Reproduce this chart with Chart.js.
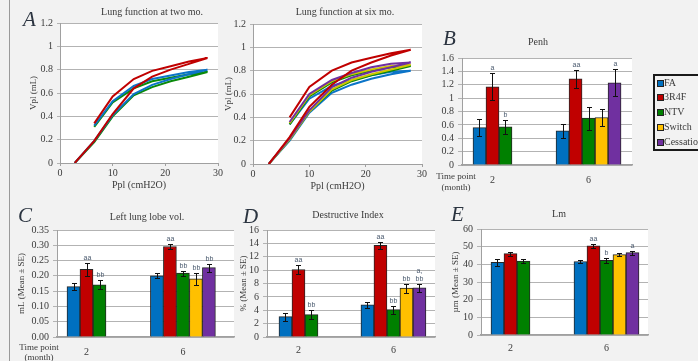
<!DOCTYPE html>
<html><head><meta charset="utf-8">
<script src="https://cdn.jsdelivr.net/npm/chart.js@4.4.1/dist/chart.umd.min.js"></script>
<style>
html,body{margin:0;padding:0;width:698px;height:361px;overflow:hidden;background:#f2f2f2;}
#wrap{position:relative;width:698px;height:361px;font-family:"Liberation Serif",serif;color:#3a3a3a;overflow:hidden;}
canvas{position:absolute;}
.t{position:absolute;transform:translate(-50%,-50%);white-space:nowrap;font-size:10px;line-height:12px;}
.s{position:absolute;transform:translate(-50%,-50%);white-space:nowrap;font-size:9px;line-height:10px;text-align:center;}
.L{position:absolute;font-style:italic;font-size:21px;line-height:21px;color:#2b3440;}
#vline{position:absolute;left:9px;top:0;width:1px;height:361px;background:#9a9a9a;}
#legend{position:absolute;left:653px;top:74px;width:70px;height:77px;border:2px solid #1a1a1a;box-sizing:border-box;}
.lsq{position:absolute;width:5px;height:5px;border:1px solid #222;}
.ltx{position:absolute;font-size:10px;line-height:12px;white-space:nowrap;transform:translateY(-50%);}
</style></head>
<body><div id="wrap">
<div id="vline"></div>
<canvas id="cA"></canvas><canvas id="cA2"></canvas><canvas id="cB"></canvas>
<canvas id="cC"></canvas><canvas id="cD"></canvas><canvas id="cE"></canvas>
<div id="legend"></div>
<div class="L" style="left:23px;top:9px">A</div>
<div class="L" style="left:443px;top:28px">B</div>
<div class="L" style="left:18px;top:205px">C</div>
<div class="L" style="left:243px;top:206px">D</div>
<div class="L" style="left:451px;top:204px">E</div>
<div class="t" style="left:152px;top:12px">Lung function at two mo.</div>
<div class="t" style="left:345px;top:12px">Lung function at six mo.</div>
<div class="t" style="left:538px;top:42px">Penh</div>
<div class="t" style="left:147px;top:217px">Left lung lobe vol.</div>
<div class="t" style="left:348px;top:215px">Destructive Index</div>
<div class="t" style="left:559px;top:214px">Lm</div>
<div class="s" style="left:456px;top:176px">Time point</div>
<div class="s" style="left:456px;top:187px">(month)</div>
<div class="s" style="left:39px;top:347px">Time point</div>
<div class="s" style="left:39px;top:357px">(month)</div>
</div>
<script>
// ---- data ----
const series = ['FA', '3R4F', 'NTV', 'Switch', 'Cessation'];
const barColors = ['#0070C0', '#C00000', '#008000', '#FFC000', '#7030A0'];
const lineColors = ['#0B74C8', '#C00000', '#0A8A0A', '#CFC600', '#7030A0'];
const months = [2, 6];

// pressure points along the inflation/deflation loop (cmH2O)
const pplLoop = [2.8, 6.5, 10, 14, 17.5, 21, 24.5, 28, 24.5, 21, 17.5, 14, 10, 6.5];
const vpl2mo_FA   = [0, 0.19, 0.41, 0.59, 0.67, 0.72, 0.76, 0.80, 0.78, 0.75, 0.72, 0.66, 0.53, 0.32];
const vpl2mo_3R4F = [0, 0.19, 0.42, 0.64, 0.74, 0.80, 0.85, 0.90, 0.87, 0.83, 0.79, 0.72, 0.57, 0.34];
const vpl2mo_NTV  = [0, 0.18, 0.40, 0.58, 0.65, 0.70, 0.74, 0.78, 0.76, 0.73, 0.70, 0.64, 0.52, 0.31];
const vpl6mo_FA        = [0, 0.20, 0.44, 0.61, 0.68, 0.73, 0.77, 0.80, 0.79, 0.76, 0.72, 0.67, 0.56, 0.34];
const vpl6mo_3R4F      = [0, 0.23, 0.49, 0.68, 0.80, 0.87, 0.93, 0.98, 0.95, 0.91, 0.87, 0.80, 0.66, 0.40];
const vpl6mo_NTV       = [0, 0.21, 0.45, 0.63, 0.71, 0.76, 0.80, 0.84, 0.83, 0.80, 0.76, 0.70, 0.58, 0.34];
const vpl6mo_Switch    = [0, 0.21, 0.45, 0.64, 0.72, 0.77, 0.81, 0.85, 0.84, 0.81, 0.77, 0.71, 0.59, 0.35];
const vpl6mo_Cessation = [0, 0.22, 0.46, 0.66, 0.74, 0.79, 0.83, 0.87, 0.86, 0.83, 0.78, 0.72, 0.60, 0.36];

// bar panels: rows = series, columns = months
const penhMean = [[0.56, 0.51], [1.17, 1.29], [0.57, 0.70], [null, 0.71], [null, 1.23]];
const penhErr  = [[0.13, 0.10], [0.20, 0.135], [0.11, 0.17], [null, 0.13], [null, 0.20]];
const penhSig  = [['', ''], ['a', 'aa'], ['b', ''], ['', ''], ['', 'a']];

const lobeMean = [[0.165, 0.200], [0.221, 0.296], [0.171, 0.209], [null, 0.190], [null, 0.227]];
const lobeErr  = [[0.010, 0.008], [0.021, 0.008], [0.015, 0.008], [null, 0.019], [null, 0.013]];
const lobeSig  = [['', ''], ['aa', 'aa'], ['bb', 'bb'], ['', 'bb'], ['', 'bb']];

const diMean = [[3.05, 4.8], [10.1, 13.7], [3.35, 4.1], [null, 7.3], [null, 7.35]];
const diErr  = [[0.6, 0.45], [0.65, 0.55], [0.7, 0.6], [null, 0.7], [null, 0.65]];
const diSig  = [['', ''], ['aa', 'aa'], ['bb', 'bb'], ['', 'bb'], ['', 'a,\nbb']];

const lmMean = [[41.2, 41.6], [46.1, 50.5], [41.8, 42.2], [null, 45.5], [null, 46.6]];
const lmErr  = [[2.1, 1.1], [1.1, 1.0], [1.3, 1.2], [null, 1.0], [null, 1.2]];
const lmSig  = [['', ''], ['', 'aa'], ['', 'b'], ['', ''], ['', 'a']];

// ---- helpers ----
const FAM = '"Liberation Serif", serif';
const TXT = '#3a3a3a';
const GRID = '#b3b3b3';
const AXIS = '#a0a0a0';

const whiteArea = {
  id: 'whiteArea',
  beforeDraw(chart) {
    const a = chart.chartArea, c = chart.ctx;
    c.save(); c.fillStyle = '#ffffff';
    c.fillRect(a.left, a.top, a.right - a.left, a.bottom - a.top);
    c.restore();
  }
};

const errBars = {
  id: 'errBars',
  afterDatasetsDraw(chart) {
    const c = chart.ctx, ys = chart.scales.y;
    chart.data.datasets.forEach((ds, di) => {
      if (!ds.err) return;
      const meta = chart.getDatasetMeta(di);
      meta.data.forEach((bar, i) => {
        const v = ds.data[i].y, e = ds.err[i];
        if (v == null || e == null) return;
        const x = Math.round(bar.x) + 0.5;
        const top = Math.round(ys.getPixelForValue(v + e)) + 0.5;
        const bot = Math.round(ys.getPixelForValue(v - e)) + 0.5;
        c.save();
        c.strokeStyle = '#111'; c.lineWidth = 1;
        c.beginPath();
        c.moveTo(x, top); c.lineTo(x, bot);
        c.moveTo(x - 2.5, top); c.lineTo(x + 2.5, top);
        c.moveTo(x - 2.5, bot); c.lineTo(x + 2.5, bot);
        c.stroke();
        const s = ds.sig && ds.sig[i];
        if (s) {
          c.fillStyle = '#4a5a6e';
          c.font = '7px "Liberation Sans", sans-serif';
          c.textAlign = 'center'; c.textBaseline = 'bottom';
          const lines = s.split('\n');
          for (let k = 0; k < lines.length; k++) {
            c.fillText(lines[lines.length - 1 - k], x, top - 2 - k * 8);
          }
        }
        c.restore();
      });
    });
  }
};

function mk(id, plot, yw, xh, padR, config) {
  const cv = document.getElementById(id);
  const left = plot.l - yw, top = plot.t - 8;
  const w = plot.r + padR - left, h = plot.b + xh - top;
  cv.width = w; cv.height = h;
  cv.style.left = left + 'px'; cv.style.top = top + 'px';
  cv.style.width = w + 'px'; cv.style.height = h + 'px';
  config.options.layout = { padding: { left: 0, top: 8, right: padR, bottom: 0 } };
  config.options.scales.y.afterFit = s => { s.width = yw; };
  config.options.scales.x.afterFit = s => { s.height = xh; };
  config.options.responsive = false;
  config.options.animation = false;
  config.options.devicePixelRatio = 1;
  config.options.events = [];
  config.options.plugins = { legend: { display: false }, tooltip: { enabled: false }, title: { display: false } };
  config.plugins = [whiteArea, errBars];
  return new Chart(cv, config);
}

const fmt = v => String(+Number(v).toFixed(2));

function lineChart(id, plot, yw, yTitlePad, sets) {
  return mk(id, plot, yw, 28, 6, {
    type: 'line',
    data: {
      datasets: sets.map(([si, vals, ord]) => ({
        label: series[si],
        data: pplLoop.map((p, k) => ({ x: p, y: vals[k] })),
        borderColor: lineColors[si], backgroundColor: lineColors[si],
        borderWidth: 2, pointRadius: 0, tension: 0, fill: false, order: ord
      }))
    },
    options: {
      scales: {
        x: {
          type: 'linear', min: 0, max: 30,
          ticks: { stepSize: 10, padding: 1, color: TXT, font: { family: FAM, size: 10 } },
          grid: { drawOnChartArea: false, drawTicks: true, tickLength: 3, color: AXIS },
          border: { color: AXIS, width: 1 },
          title: { display: true, text: 'Ppl (cmH2O)', color: TXT, font: { family: FAM, size: 10 }, padding: 0 }
        },
        y: {
          min: 0, max: 1.2,
          ticks: { stepSize: 0.2, autoSkip: false, padding: 4, color: TXT, font: { family: FAM, size: 10 }, callback: fmt },
          grid: { color: GRID, tickLength: 3 },
          border: { color: AXIS, width: 1 },
          title: { display: true, text: 'Vpl (mL)', color: TXT, font: { family: FAM, size: 9 }, padding: { top: yTitlePad, bottom: 0 } }
        }
      }
    }
  });
}

function barChart(id, plot, yw, xh, xpad, xmin, xmax, ymax, ystep, yfmt, ytitle, yTitlePad, mean, err, sig) {
  const datasets = series.map((name, s) => ({
    label: name,
    data: months.map((m, i) => ({ x: m, y: mean[s][i] })),
    backgroundColor: barColors[s], borderColor: '#262626', borderWidth: 1,
    barThickness: 13, skipNull: true, grouped: true,
    err: err[s], sig: sig[s]
  }));
  return mk(id, plot, yw, xh, 6, {
    type: 'bar',
    data: { datasets },
    options: {
      skipNull: true,
      scales: {
        x: {
          type: 'linear', min: xmin, max: xmax, offset: false,
          afterBuildTicks: s => { s.ticks = months.map(v => ({ value: v })); },
          ticks: { padding: xpad, color: TXT, font: { family: FAM, size: 10 }, callback: v => String(v) },
          grid: { display: false, drawTicks: false, offset: false },
          border: { display: true, color: AXIS, width: 1.5 }
        },
        y: {
          min: 0, max: ymax,
          ticks: { stepSize: ystep, autoSkip: false, padding: 4, color: TXT, font: { family: FAM, size: 10 }, callback: yfmt },
          grid: { color: GRID, tickLength: 4 },
          border: { color: AXIS, width: 1 },
          title: { display: !!ytitle, text: ytitle, color: TXT, font: { family: FAM, size: 9 }, padding: { top: yTitlePad, bottom: 0 } }
        }
      }
    }
  });
}

// ---- panels ----
lineChart('cA', { l: 60, t: 21, r: 218, b: 163 }, 40, 8, [
  [1, vpl2mo_3R4F, 0], [0, vpl2mo_FA, 1], [2, vpl2mo_NTV, 2]
]);
lineChart('cA2', { l: 253, t: 22, r: 422, b: 164 }, 33, 3, [
  [1, vpl6mo_3R4F, 0], [4, vpl6mo_Cessation, 1], [3, vpl6mo_Switch, 2], [2, vpl6mo_NTV, 3], [0, vpl6mo_FA, 4]
]);
barChart('cB', { l: 462, t: 56, r: 632, b: 165 }, 30, 23, 9, 0.73, 7.81, 1.6, 0.2, fmt, '', 0, penhMean, penhErr, penhSig);
barChart('cC', { l: 57, t: 228, r: 234, b: 337 }, 45, 23, 9, 0.776, 8.12, 0.35, 0.05, v => Number(v).toFixed(2), 'mL (Mean \u00b1 SE)', 4, lobeMean, lobeErr, lobeSig);
barChart('cD', { l: 267, t: 228, r: 435, b: 337 }, 31, 21, 7, 0.674, 7.75, 16, 2, fmt, '% (Mean \u00b1 SE)', 2, diMean, diErr, diSig);
barChart('cE', { l: 481, t: 227, r: 648, b: 335 }, 34, 21, 7, 0.771, 7.73, 60, 10, fmt, '\u00b5m (Mean \u00b1 SE)', 3, lmMean, lmErr, lmSig);

// ---- legend ----
const legendRows = [83, 97, 112, 127, 142];
const wrap = document.getElementById('wrap');
series.forEach((name, i) => {
  const sq = document.createElement('div');
  sq.className = 'lsq';
  sq.style.left = '657px'; sq.style.top = (legendRows[i] - 3) + 'px';
  sq.style.background = barColors[i];
  wrap.appendChild(sq);
  const tx = document.createElement('div');
  tx.className = 'ltx';
  tx.style.left = '664px'; tx.style.top = legendRows[i] + 'px';
  tx.textContent = name;
  wrap.appendChild(tx);
});
</script>
</body></html>
